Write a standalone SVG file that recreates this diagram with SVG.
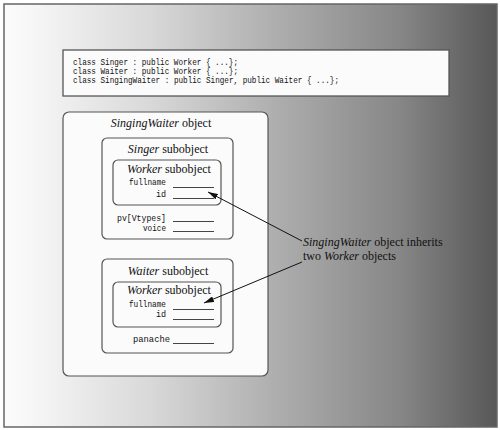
<svg xmlns="http://www.w3.org/2000/svg" width="500" height="430" viewBox="0 0 500 430">
<defs>
<linearGradient id="bg" x1="4" y1="0" x2="497" y2="0" gradientUnits="userSpaceOnUse">
<stop offset="0" stop-color="#fcfcfc"/>
<stop offset="0.05" stop-color="#f7f7f7"/>
<stop offset="0.3" stop-color="#d8d8d8"/>
<stop offset="0.55" stop-color="#aeaeae"/>
<stop offset="0.8" stop-color="#878787"/>
<stop offset="1" stop-color="#575757"/>
</linearGradient>
<marker id="ah" viewBox="0 0 10 6" refX="10" refY="3" markerWidth="10" markerHeight="6" markerUnits="userSpaceOnUse" orient="auto">
<path d="M0,0 L10,3 L0,6 Z" fill="#111"/>
</marker>
</defs>
<style>
.box{fill:#fbfbfb;stroke:#555;stroke-width:1.2}
.code{font-family:"Liberation Mono",monospace;font-size:8.6px;fill:#111}
.mono{font-family:"Liberation Mono",monospace;font-size:8.4px;fill:#111}
.title{font-family:"Liberation Serif",serif;font-size:12px;fill:#111}
.line{stroke:#444;stroke-width:1}
.conn{stroke:#111;stroke-width:1;fill:none}
</style>
<rect x="0" y="0" width="500" height="430" fill="#ffffff"/>
<rect x="4" y="4" width="493" height="423" fill="url(#bg)" stroke="#666" stroke-width="1.5"/>

<g id="code">
<rect x="63" y="50" width="386" height="46" fill="#fbfbfb" stroke="#555" stroke-width="1.3"/>
<text class="code" x="73" y="65" textLength="165" lengthAdjust="spacingAndGlyphs">class Singer : public Worker { ...};</text>
<text class="code" x="73" y="74" textLength="165" lengthAdjust="spacingAndGlyphs">class Waiter : public Worker { ...};</text>
<text class="code" x="73" y="83" textLength="266" lengthAdjust="spacingAndGlyphs">class SingingWaiter : public Singer, public Waiter { ...};</text>
</g>

<g id="singingwaiter">
<rect class="box" x="63" y="112" width="205" height="264" rx="6"/>
<text class="title" x="161" y="127" text-anchor="middle"><tspan font-style="italic">SingingWaiter</tspan> object</text>
</g>

<g id="singer">
<rect class="box" x="102" y="138" width="131" height="101" rx="5"/>
<text class="title" x="168" y="153" text-anchor="middle"><tspan font-style="italic">Singer</tspan> subobject</text>
<text class="mono" x="117" y="221" textLength="49" lengthAdjust="spacingAndGlyphs">pv[Vtypes]</text>
<line class="line" x1="173" y1="221.5" x2="214" y2="221.5"/>
<text class="mono" x="143" y="231" textLength="23" lengthAdjust="spacingAndGlyphs">voice</text>
<line class="line" x1="173" y1="231.5" x2="214" y2="231.5"/>
</g>

<g id="worker1">
<rect class="box" x="113" y="160" width="108" height="45" rx="5"/>
<text class="title" x="169" y="173" text-anchor="middle"><tspan font-style="italic">Worker</tspan> subobject</text>
<text class="mono" x="129" y="185" textLength="37" lengthAdjust="spacingAndGlyphs">fullname</text>
<line class="line" x1="173" y1="187.5" x2="214" y2="187.5"/>
<text class="mono" x="166" y="197" text-anchor="end">id</text>
<line class="line" x1="173" y1="198.5" x2="214" y2="198.5"/>
</g>

<g id="waiter">
<rect class="box" x="102" y="259" width="131" height="94" rx="5"/>
<text class="title" x="168" y="275" text-anchor="middle"><tspan font-style="italic">Waiter</tspan> subobject</text>
<text class="mono" x="133" y="342" textLength="37" lengthAdjust="spacingAndGlyphs">panache</text>
<line class="line" x1="173" y1="343.5" x2="214" y2="343.5"/>
</g>

<g id="worker2">
<rect class="box" x="113" y="282" width="108" height="45" rx="5"/>
<text class="title" x="169" y="294" text-anchor="middle"><tspan font-style="italic">Worker</tspan> subobject</text>
<text class="mono" x="129" y="307" textLength="37" lengthAdjust="spacingAndGlyphs">fullname</text>
<line class="line" x1="173" y1="309.5" x2="214" y2="309.5"/>
<text class="mono" x="166" y="317" text-anchor="end">id</text>
<line class="line" x1="173" y1="319.5" x2="214" y2="319.5"/>
</g>

<g id="note">
<text class="title" x="303" y="246"><tspan font-style="italic">SingingWaiter</tspan> object inherits</text>
<text class="title" x="303" y="260">two <tspan font-style="italic">Worker</tspan> objects</text>
</g>

<g id="connectors">
<line class="conn" x1="302" y1="241" x2="208" y2="192" marker-end="url(#ah)"/>
<line class="conn" x1="302" y1="262" x2="204" y2="303" marker-end="url(#ah)"/>
</g>
</svg>
